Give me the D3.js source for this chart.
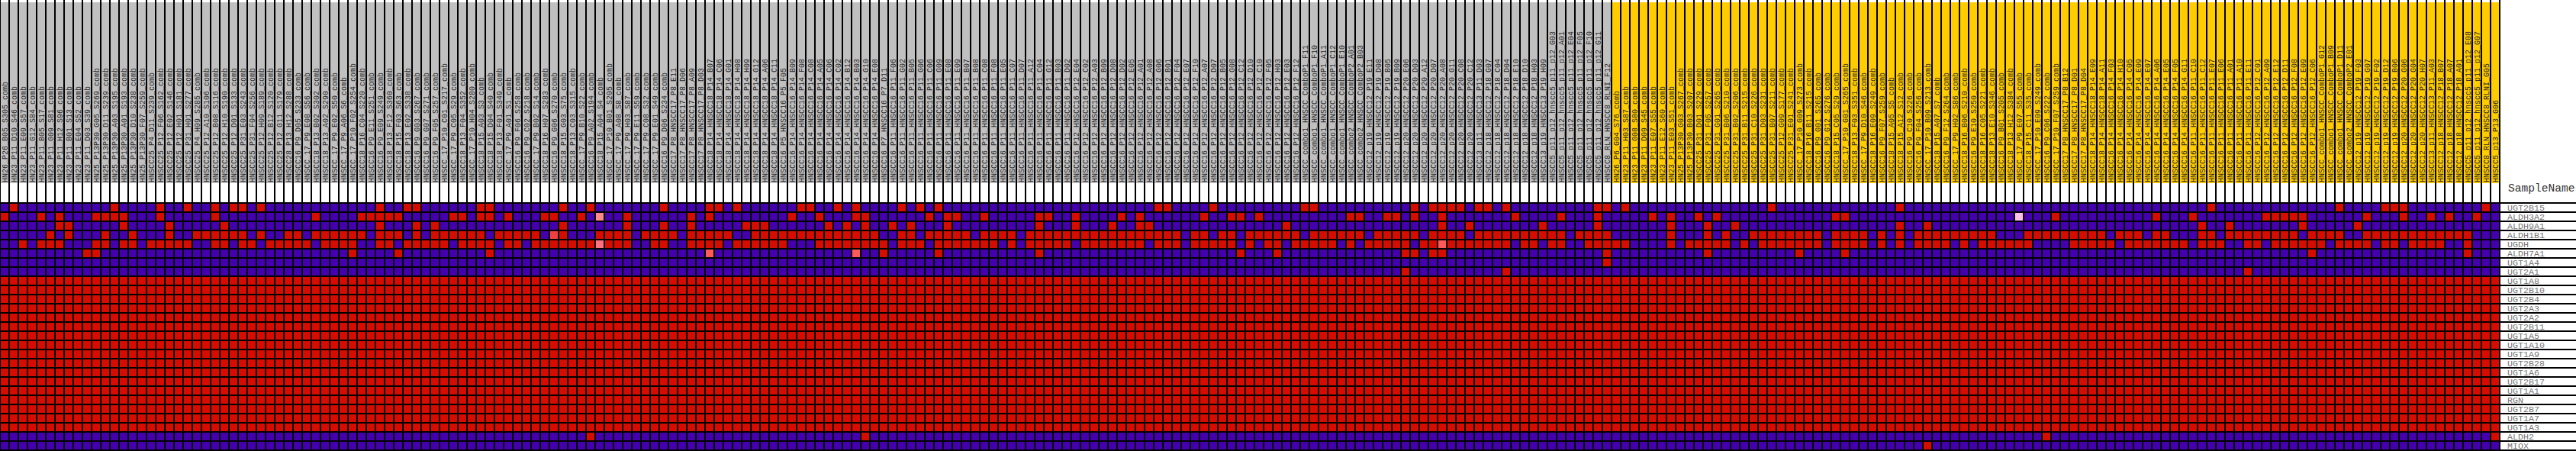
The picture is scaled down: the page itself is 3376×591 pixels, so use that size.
<!DOCTYPE html>
<html><head><meta charset="utf-8">
<script src="https://cdn.jsdelivr.net/npm/d3@7"></script>
<style>html,body{margin:0;padding:0;background:#fff;overflow:hidden}</style>
</head><body><svg id="chart" width="3376" height="591"></svg>
<script>
const sampleNames = [
"HN26_P26_B05_S305_comb","HN23_P11_D10_S46_comb","HN23_P11_E09_S57_comb","HN23_P11_G12_S84_comb","HN23_P11_B05_S17_comb","HN23_P11_G09_S81_comb","HN23_P11_H12_S96_comb","HN23_P11_B01_S13_comb","HN23_P11_E04_S52_comb","HN23_P11_D03_S39_comb",
"HN25_P13P30_G05_S269_comb","HN25_P13P30_D11_S239_comb","HN25_P13P30_A03_S195_comb","HN25_P13P30_A01_S193_comb","HN25_P13P30_D10_S238_comb","HN25_P13P30_F07_S259_comb","HNSCC25_P4_D11_S239_comb","HNSCC25_P12_F06_S162_comb","HNSCC25_P12_E02_S146_comb","HNSCC25_P12_H01_S181_comb",
"HNSCC25_P31_H01_S277_comb","HNSCC25_P4_H09_S285_comb","HNSCC25_P12_A10_S106_comb","HNSCC25_P12_B08_S116_comb","HNSCC25_P12_H10_S190_comb","HNSCC25_P12_D01_S133_comb","HNSCC25_P31_E03_S243_comb","HNSCC25_P31_F04_S256_comb","HNSCC25_P12_H09_S189_comb","HNSCC25_P12_B12_S120_comb",
"HNSCC25_P12_G11_S179_comb","HNSCC28_P13_H12_S288_comb","HNSCC16_P9_D05_S233_comb","HNSCC_17_P9_E08_S56_comb","HNSCC18_P13_B02_S302_comb","HNSCC18_P13_A02_S290_comb","HNSCC_17_P9_E02_S50_comb","HNSCC_17_P9_A06_S6_comb","HNSCC_17_P10_F02_S254_comb",
"HNSCC18_P16_C04_S220_comb","HNSCC16_P9_E11_S251_comb","HNSCC16_P9_E09_S249_comb","HNSCC18_P13_F12_S360_comb","HNSCC18_P15_F03_S63_comb","HNSCC18_P13_E02_S338_comb","HNSCC16_P9_G03_S267_comb","HNSCC16_P9_G07_S271_comb","HNSCC16_P9_F05_S257_comb","HNSCC_17_P10_C01_S217_comb",
"HNSCC_17_P9_C05_S29_comb","HNSCC18_P13_F04_S352_comb","HNSCC_17_P10_H04_S280_comb","HNSCC18_P15_A03_S3_comb","HNSCC18_P15_D04_S40_comb","HNSCC18_P13_F01_S349_comb","HNSCC_17_P9_A01_S1_comb","HNSCC16_P9_F06_S258_comb","HNSCC16_P9_C02_S218_comb","HNSCC_17_P9_B02_S14_comb",
"HNSCC18_P16_H07_S283_comb","HNSCC16_P9_G06_S270_comb","HNSCC18_P15_G03_S75_comb","HNSCC18_P13_C03_S315_comb","HNSCC_17_P9_B10_S22_comb","HNSCC16_P9_A02_S194_comb","HNSCC18_P15_A04_S4_comb","HNSCC_17_P10_B01_S205_comb","HNSCC_17_P9_A08_S8_comb","HNSCC_17_P9_H03_S87_comb",
"HNSCC_17_P9_E11_S59_comb","HNSCC_17_P9_C08_S32_comb","HNSCC_17_P9_E01_S49_comb","HNSCC16_P9_D06_S234_comb","HNSCC17_P8_HNSCC17_P8_E11","HNSCC17_P8_HNSCC17_P8_D06","HNSCC17_P8_HNSCC17_P8_A09","HNSCC17_P8_HNSCC17_P8_D03","HNSCC18_P14_HNSCC18_P14_B07",
"HNSCC18_P14_HNSCC18_P14_C06","HNSCC18_P14_HNSCC18_P14_G01","HNSCC18_P14_HNSCC18_P14_H08","HNSCC18_P14_HNSCC18_P14_H09","HNSCC18_P14_HNSCC18_P14_G12","HNSCC18_P14_HNSCC18_P14_A06","HNSCC18_P14_HNSCC18_P14_C11","HNSCC16_P5_HNSCC16_P5_F05","HNSCC16_P14_HNSCC16_P14_B09","HNSCC16_P14_HNSCC16_P14_F08",
"HNSCC16_P14_HNSCC16_P14_C08","HNSCC16_P14_HNSCC16_P14_A05","HNSCC16_P14_HNSCC16_P14_C06","HNSCC16_P14_HNSCC16_P14_C02","HNSCC16_P14_HNSCC16_P14_B12","HNSCC16_P14_HNSCC16_P14_B03","HNSCC16_P14_HNSCC16_P14_G10","HNSCC16_P14_HNSCC16_P14_E08","HNSCC16_P7_HNSCC16_P7_D11","HNSCC16_P11_HNSCC16_P11_F06",
"HNSCC16_P11_HNSCC16_P11_G02","HNSCC16_P11_HNSCC16_P11_B05","HNSCC16_P11_HNSCC16_P11_G06","HNSCC16_P11_HNSCC16_P11_C06","HNSCC16_P11_HNSCC16_P11_G09","HNSCC16_P11_HNSCC16_P11_E08","HNSCC16_P11_HNSCC16_P11_E09","HNSCC16_P11_HNSCC16_P11_B07","HNSCC16_P11_HNSCC16_P11_B08","HNSCC16_P11_HNSCC16_P11_C08",
"HNSCC16_P11_HNSCC16_P11_F08","HNSCC16_P11_HNSCC16_P11_E05","HNSCC16_P11_HNSCC16_P11_C07","HNSCC16_P11_HNSCC16_P11_D07","HNSCC16_P11_HNSCC16_P11_A12","HNSCC16_P11_HNSCC16_P11_C04","HNSCC16_P11_HNSCC16_P11_G12","HNSCC16_P11_HNSCC16_P11_B03","HNSCC16_P11_HNSCC16_P11_D02",
"HNSCC16_P12_HNSCC16_P12_E04","HNSCC16_P12_HNSCC16_P12_C02","HNSCC16_P12_HNSCC16_P12_A03","HNSCC16_P12_HNSCC16_P12_B09","HNSCC16_P12_HNSCC16_P12_D08","HNSCC16_P12_HNSCC16_P12_D02","HNSCC16_P12_HNSCC16_P12_E05","HNSCC16_P12_HNSCC16_P12_A01","HNSCC16_P12_HNSCC16_P12_A08","HNSCC16_P12_HNSCC16_P12_G06",
"HNSCC16_P12_HNSCC16_P12_B01","HNSCC16_P12_HNSCC16_P12_F04","HNSCC16_P12_HNSCC16_P12_E07","HNSCC16_P12_HNSCC16_P12_F10","HNSCC16_P12_HNSCC16_P12_A07","HNSCC16_P12_HNSCC16_P12_D07","HNSCC16_P12_HNSCC16_P12_B05","HNSCC16_P12_HNSCC16_P12_G08","HNSCC16_P12_HNSCC16_P12_C12","HNSCC16_P12_HNSCC16_P12_D10",
"HNSCC16_P12_HNSCC16_P12_C10","HNSCC16_P12_HNSCC16_P12_F05","HNSCC16_P12_HNSCC16_P12_H03","HNSCC16_P12_HNSCC16_P12_E03","HNSCC16_P12_HNSCC16_P12_F12","HNSCC_combo1_HNSCC_ComboP1_F11","HNSCC_combo1_HNSCC_ComboP1_F10","HNSCC_combo1_HNSCC_ComboP1_A11","HNSCC_combo1_HNSCC_ComboP1_C12","HNSCC_combo1_HNSCC_ComboP1_E10",
"HNSCC_combo2_HNSCC_ComboP2_A01","HNSCC_combo2_HNSCC_ComboP2_B03","HNSCC12_p19_HNSCC12_P19_E11","HNSCC12_p19_HNSCC12_P19_D08","HNSCC12_p19_HNSCC12_P19_B05","HNSCC12_p19_HNSCC12_P19_B09","HNSCC12_p20_HNSCC12_P20_E06","HNSCC12_p20_HNSCC12_P20_D03","HNSCC12_p20_HNSCC12_P20_A12",
"HNSCC12_p20_HNSCC12_P20_D07","HNSCC12_p20_HNSCC12_P20_A08","HNSCC12_p20_HNSCC12_P20_G11","HNSCC12_p20_HNSCC12_P20_C08","HNSCC12_p20_HNSCC12_P20_C12","HNSCC13_p11_HNSCC13_P11_D03","HNSCC12_p18_HNSCC12_P18_G07","HNSCC12_p18_HNSCC12_P18_C04","HNSCC12_p18_HNSCC12_P18_D04","HNSCC12_p18_HNSCC12_P18_E10",
"HNSCC12_p18_HNSCC12_P18_D10","HNSCC12_p18_HNSCC12_P18_H03","HNSCC13_p19_HNSCC13_P19_H09","HNSCC5_p11_p12_hnscc5_p11_p12_G03","HNSCC5_p11_p12_hnscc5_p11_p12_A01","HNSCC5_p11_p12_hnscc5_p11_p12_E04","HNSCC5_p11_p12_hnscc5_p11_p12_F05","HNSCC5_p11_p12_hnscc5_p11_p12_F10","HNSCC5_p11_p12_hnscc5_p11_p12_G11","HNSCC8_RLN_HNSCC8_RLNI_F12",
"HN26_P6_G04_S76_comb","HN23_P11_H03_S87_comb","HN23_P11_G08_S80_comb","HN23_P11_D09_S45_comb","HN23_P11_E07_S55_comb","HN23_P11_E12_S60_comb","HN23_P11_E03_S51_comb","HN25_P13P30_G03_S267_comb","HN25_P13P30_B03_S207_comb","HNSCC25_P31_D01_S229_comb",
"HNSCC25_P31_F05_S257_comb","HNSCC25_P31_G01_S265_comb","HNSCC25_P31_B06_S210_comb","HNSCC25_P31_B02_S206_comb","HNSCC25_P31_B11_S215_comb","HNSCC25_P31_C10_S226_comb","HNSCC25_P31_D03_S231_comb","HNSCC25_P31_B07_S211_comb","HNSCC25_P12_G09_S177_comb",
"HNSCC25_P31_E01_S241_comb","HNSCC_17_P10_G09_S273_comb","HNSCC18_P16_B11_S215_comb","HNSCC16_P9_G01_S265_comb","HNSCC16_P9_G12_S276_comb","HNSCC18_P15_C05_S29_comb","HNSCC_17_P10_G01_S265_comb","HNSCC18_P13_F03_S351_comb","HNSCC_17_P9_D10_S46_comb","HNSCC18_P16_E09_S249_comb",
"HNSCC16_P9_F07_S259_comb","HNSCC18_P15_A05_S5_comb","HNSCC18_P15_A12_S12_comb","HNSCC16_P9_C10_S226_comb","HNSCC16_P9_F04_S256_comb","HNSCC_17_P10_B09_S213_comb","HNSCC18_P15_A07_S7_comb","HNSCC16_P9_F12_S264_comb","HNSCC_17_P9_H02_S86_comb","HNSCC18_P16_B06_S210_comb",
"HNSCC16_P9_E10_S250_comb","HNSCC18_P16_C05_S221_comb","HNSCC18_P13_E10_S346_comb","HNSCC16_P9_B01_S205_comb","HNSCC18_P13_H12_S384_comb","HNSCC_17_P9_E07_S55_comb","HNSCC18_P15_C11_S35_comb","HNSCC_17_P10_E09_S249_comb","HNSCC16_P9_C06_S222_comb","HNSCC_17_P10_F07_S259_comb",
"HNSCC17_P8_HNSCC17_P8_B12","HNSCC17_P8_HNSCC17_P8_D01","HNSCC17_P8_HNSCC17_P8_D04","HNSCC18_P14_HNSCC18_P14_E09","HNSCC18_P14_HNSCC18_P14_A11","HNSCC16_P14_HNSCC16_P14_F03","HNSCC16_P14_HNSCC16_P14_H10","HNSCC16_P14_HNSCC16_P14_C05","HNSCC16_P14_HNSCC16_P14_E09",
"HNSCC16_P14_HNSCC16_P14_E07","HNSCC16_P14_HNSCC16_P14_A06","HNSCC16_P14_HNSCC16_P14_E05","HNSCC16_P14_HNSCC16_P14_F05","HNSCC16_P14_HNSCC16_P14_G11","HNSCC16_P11_HNSCC16_P11_C10","HNSCC16_P11_HNSCC16_P11_C12","HNSCC16_P11_HNSCC16_P11_E07","HNSCC16_P11_HNSCC16_P11_E06","HNSCC16_P11_HNSCC16_P11_A01",
"HNSCC16_P11_HNSCC16_P11_A10","HNSCC16_P11_HNSCC16_P11_E11","HNSCC16_P12_HNSCC16_P12_C01","HNSCC16_P12_HNSCC16_P12_A09","HNSCC16_P12_HNSCC16_P12_E12","HNSCC16_P12_HNSCC16_P12_D11","HNSCC16_P12_HNSCC16_P12_F08","HNSCC16_P12_HNSCC16_P12_E09","HNSCC16_P12_HNSCC16_P12_C06","HNSCC_combo1_HNSCC_ComboP1_G12",
"HNSCC_combo1_HNSCC_ComboP1_B09","HNSCC_combo1_HNSCC_ComboP1_D11","HNSCC_combo2_HNSCC_ComboP2_E01","HNSCC12_p19_HNSCC12_P19_F03","HNSCC12_p19_HNSCC12_P19_G07","HNSCC12_p19_HNSCC12_P19_F02","HNSCC12_p19_HNSCC12_P19_D12","HNSCC12_p19_HNSCC12_P19_B06","HNSCC12_p20_HNSCC12_P20_G06","HNSCC12_p20_HNSCC12_P20_G04",
"HNSCC12_p20_HNSCC12_P20_H07","HNSCC13_p11_HNSCC13_P11_A03","HNSCC12_p18_HNSCC12_P18_B07","HNSCC12_p18_HNSCC12_P18_A07","HNSCC12_p18_HNSCC12_P18_A01","HNSCC5_p11_p12_hnscc5_p11_p12_E08","HNSCC5_p11_p12_hnscc5_p11_p12_G07","HNSCC8_RLN_HNSCC8_RLNI_G05","HNSCC5_p13_P13_G06"
];

// number of samples in each phenotype class, in column order
const classNames = ["class0", "class1"];
const classSizes = [176, 97];

const geneNames = ["UGT2B15","ALDH3A2","ALDH9A1","ALDH1B1","UGDH","ALDH7A1","UGT1A4","UGT2A1","UGT1A8","UGT2B10","UGT2B4","UGT2A3","UGT2A2","UGT2B11","UGT1A5","UGT1A10","UGT1A9","UGT2B28","UGT1A6","UGT2B17","UGT1A1","RGN","UGT2B7","UGT1A7","UGT1A3","ALDH2","MIOX"];

// colour level per cell (base-12 digit: 0 = lowest ... b = highest), 273 samples per gene
const cellLevels = [
"0b00000000 00b0000b00 b00b0bb0b0 000000000|00b00bb000 000bb00000 00b00b0000 000b0000b|b0b000000b b00b0b0000 b0b0b00000 000000000|000000000b b0000b0000 00000bb000 0000000b0|bbbb0bb0b0 00000000bb 0b00000000 0000000b0|0000000000 00b0000000 0000000000 000000000|0000000b00 0000000000 0b0000bbb0 0000000b0",
"b000b0b000 bbbb000b00 000b000000 0000b0000|bbbbb00000 bb0bb0b000 bb00b0700b 000000b0b|00000000b0 0b000bb000 000b0bb00b 00000bb00|b0000b0b00 0000b00bb0 b000000000 bb00bb0b0|0b0000000b 0000b000b0 0000b0b00b 0b0000000|00000bb000 0000000000 000006000b 000000000|0b000b0000 000bbbbb00 0000b000b0 0b0b00b00",
"000000bb00 000b0000b0 0000b00000 000000000|00b000b0b0 0000000000 00b000000b 000b00b00|000bbb0000 00b0b0b00b 0b000b0000 00000b000|b000b00bb0 0000000000 000b000000 000000000|0b00b00000 00b00000b0 000000b000 b00b00000|0000000000 00b00b0000 0000000000 000000000|000000b00b 0000000b00 000b000000 000000000",
"00000b0b00 0b00b000b0 0bbbbbb0b0 0bb0bbbbb|b0bbb0b0bb bbbb0bbbbb 0ab000bbbb 0bbbb0bbb|bb00bbbbbb bbbbbbbb00 bb0bbbbb0b bbb0bbbbb|bbbbbbbbbb bb0bb0bb0b bbbbb0bbbb bb0bbbbb0|bbbb0bbbbb bbbbb0bbbb 000000b000 b0b00bbbb|bbbb0bbbb0 b0b0bbbbbb bbb000bbbb bbbbb0bbb|0bb000bb0b bbbbbbb0bb bb00bbbbbb bbbbbb000",
"00b0bbb000 bb0bb0bbbb b00bb0bb0b bbbb0bbbb|00bb0bbbbb 0bbbb0bb0b bbbbbb8bbb 00bb00bbb|b0bbbbbb00 0bbbbbbbb0 bbb0bbbbbb b0b0bbbbb|0bbbbbbb0b bb0bbbbb0b 0bb0bbbbb0 b0bbbbb0b|b9bbbbbbb0 bb0bb00bbb bb0000b0bb bbb0b0bbb|bbbb0bbbb0 b0b0bbbb0b 0bbbbbb000 0bbbbb0bb|bbbbb0bbb0 0bb0bbbbbb 0bbbb0bb0b bbb00b000",
"000000000b b000000000 0000000000 00000000b|0000b00000 0000b00000 0000000000 000000009|0000000000 00000900b0 0000b00000 00000b000|0000000000 00000000b0 00b0000000 000000bb0|bb00000000 000000000b 0000000000 b00000000|0b0000b000 0000000000 0000000000 000000000|0000000000 00000000b0 0000000000 00000b000",
"0000000000 0000000000 0000000000 000000000|0000000000 0000000000 0000000000 000000000|0000000000 0000000000 0000000000 000000000|0000000000 0000000000 0000000000 000000000|0000000000 000000000b 0000000000 000000000|0000000000 0000000000 0000000000 000000000|0000000000 0000000000 0000000000 000000000",
"0000000000 0000000000 0000000000 000000000|0000000000 0000000000 0000000000 000000000|0000000000 0000000000 0000000000 000000000|0000000000 0000000000 0000000000 000000b00|00000000b0 0000000000 0000000000 000000000|0000000000 0000000000 0000000000 000000000|0000000000 0b00000000 0000000000 000000000",
"bbbbbbbbbb bbbbbbbbbb bbbbbbbbbb bbbbbbbbb|bbbbbbbbbb bbbbbbbbbb bbbbbbbbbb bbbbbbbbb|bbbbbbbbbb bbbbbbbbbb bbbbbbbbbb bbbbbbbbb|bbbbbbbbbb bbbbbbbbbb bbbbbbbbbb bbbbbbbbb|bbbbbbbbbb bbbbbbbbbb bbbbbbbbbb bbbbbbbbb|bbbbbbbbbb bbbbbbbbbb bbbbbbbbbb bbbbbbbbb|bbbbbbbbbb bbbbbbbbbb bbbbbbbbbb bbbbbbbbb",
"bbbbbbbbbb bbbbbbbbbb bbbbbbbbbb bbbbbbbbb|bbbbbbbbbb bbbbbbbbbb bbbbbbbbbb bbbbbbbbb|bbbbbbbbbb bbbbbbbbbb bbbbbbbbbb bbbbbbbbb|bbbbbbbbbb bbbbbbbbbb bbbbbbbbbb bbbbbbbbb|bbbbbbbbbb bbbbbbbbbb bbbbbbbbbb bbbbbbbbb|bbbbbbbbbb bbbbbbbbbb bbbbbbbbbb bbbbbbbbb|bbbbbbbbbb bbbbbbbbbb bbbbbbbbbb bbbbbbbbb",
"bbbbbbbbbb bbbbbbbbbb bbbbbbbbbb bbbbbbbbb|bbbbbbbbbb bbbbbbbbbb bbbbbbbbbb bbbbbbbbb|bbbbbbbbbb bbbbbbbbbb bbbbbbbbbb bbbbbbbbb|bbbbbbbbbb bbbbbbbbbb bbbbbbbbbb bbbbbbbbb|bbbbbbbbbb bbbbbbbbbb bbbbbbbbbb bbbbbbbbb|bbbbbbbbbb bbbbbbbbbb bbbbbbbbbb bbbbbbbbb|bbbbbbbbbb bbbbbbbbbb bbbbbbbbbb bbbbbbbbb",
"bbbbbbbbbb bbbbbbbbbb bbbbbbbbbb bbbbbbbbb|bbbbbbbbbb bbbbbbbbbb bbbbbbbbbb bbbbbbbbb|bbbbbbbbbb bbbbbbbbbb bbbbbbbbbb bbbbbbbbb|bbbbbbbbbb bbbbbbbbbb bbbbbbbbbb bbbbbbbbb|bbbbbbbbbb bbbbbbbbbb bbbbbbbbbb bbbbbbbbb|bbbbbbbbbb bbbbbbbbbb bbbbbbbbbb bbbbbbbbb|bbbbbbbbbb bbbbbbbbbb bbbbbbbbbb bbbbbbbbb",
"bbbbbbbbbb bbbbbbbbbb bbbbbbbbbb bbbbbbbbb|bbbbbbbbbb bbbbbbbbbb bbbbbbbbbb bbbbbbbbb|bbbbbbbbbb bbbbbbbbbb bbbbbbbbbb bbbbbbbbb|bbbbbbbbbb bbbbbbbbbb bbbbbbbbbb bbbbbbbbb|bbbbbbbbbb bbbbbbbbbb bbbbbbbbbb bbbbbbbbb|bbbbbbbbbb bbbbbbbbbb bbbbbbbbbb bbbbbbbbb|bbbbbbbbbb bbbbbbbbbb bbbbbbbbbb bbbbbbbbb",
"bbbbbbbbbb bbbbbbbbbb bbbbbbbbbb bbbbbbbbb|bbbbbbbbbb bbbbbbbbbb bbbbbbbbbb bbbbbbbbb|bbbbbbbbbb bbbbbbbbbb bbbbbbbbbb bbbbbbbbb|bbbbbbbbbb bbbbbbbbbb bbbbbbbbbb bbbbbbbbb|bbbbbbbbbb bbbbbbbbbb bbbbbbbbbb bbbbbbbbb|bbbbbbbbbb bbbbbbbbbb bbbbbbbbbb bbbbbbbbb|bbbbbbbbbb bbbbbbbbbb bbbbbbbbbb bbbbbbbbb",
"bbbbbbbbbb bbbbbbbbbb bbbbbbbbbb bbbbbbbbb|bbbbbbbbbb bbbbbbbbbb bbbbbbbbbb bbbbbbbbb|bbbbbbbbbb bbbbbbbbbb bbbbbbbbbb bbbbbbbbb|bbbbbbbbbb bbbbbbbbbb bbbbbbbbbb bbbbbbbbb|bbbbbbbbbb bbbbbbbbbb bbbbbbbbbb bbbbbbbbb|bbbbbbbbbb bbbbbbbbbb bbbbbbbbbb bbbbbbbbb|bbbbbbbbbb bbbbbbbbbb bbbbbbbbbb bbbbbbbbb",
"bbbbbbbbbb bbbbbbbbbb bbbbbbbbbb bbbbbbbbb|bbbbbbbbbb bbbbbbbbbb bbbbbbbbbb bbbbbbbbb|bbbbbbbbbb bbbbbbbbbb bbbbbbbbbb bbbbbbbbb|bbbbbbbbbb bbbbbbbbbb bbbbbbbbbb bbbbbbbbb|bbbbbbbbbb bbbbbbbbbb bbbbbbbbbb bbbbbbbbb|bbbbbbbbbb bbbbbbbbbb bbbbbbbbbb bbbbbbbbb|bbbbbbbbbb bbbbbbbbbb bbbbbbbbbb bbbbbbbbb",
"bbbbbbbbbb bbbbbbbbbb bbbbbbbbbb bbbbbbbbb|bbbbbbbbbb bbbbbbbbbb bbbbbbbbbb bbbbbbbbb|bbbbbbbbbb bbbbbbbbbb bbbbbbbbbb bbbbbbbbb|bbbbbbbbbb bbbbbbbbbb bbbbbbbbbb bbbbbbbbb|bbbbbbbbbb bbbbbbbbbb bbbbbbbbbb bbbbbbbbb|bbbbbbbbbb bbbbbbbbbb bbbbbbbbbb bbbbbbbbb|bbbbbbbbbb bbbbbbbbbb bbbbbbbbbb bbbbbbbbb",
"bbbbbbbbbb bbbbbbbbbb bbbbbbbbbb bbbbbbbbb|bbbbbbbbbb bbbbbbbbbb bbbbbbbbbb bbbbbbbbb|bbbbbbbbbb bbbbbbbbbb bbbbbbbbbb bbbbbbbbb|bbbbbbbbbb bbbbbbbbbb bbbbbbbbbb bbbbbbbbb|bbbbbbbbbb bbbbbbbbbb bbbbbbbbbb bbbbbbbbb|bbbbbbbbbb bbbbbbbbbb bbbbbbbbbb bbbbbbbbb|bbbbbbbbbb bbbbbbbbbb bbbbbbbbbb bbbbbbbbb",
"bbbbbbbbbb bbbbbbbbbb bbbbbbbbbb bbbbbbbbb|bbbbbbbbbb bbbbbbbbbb bbbbbbbbbb bbbbbbbbb|bbbbbbbbbb bbbbbbbbbb bbbbbbbbbb bbbbbbbbb|bbbbbbbbbb bbbbbbbbbb bbbbbbbbbb bbbbbbbbb|bbbbbbbbbb bbbbbbbbbb bbbbbbbbbb bbbbbbbbb|bbbbbbbbbb bbbbbbbbbb bbbbbbbbbb bbbbbbbbb|bbbbbbbbbb bbbbbbbbbb bbbbbbbbbb bbbbbbbbb",
"bbbbbbbbbb bbbbbbbbbb bbbbbbbbbb bbbbbbbbb|bbbbbbbbbb bbbbbbbbbb bbbbbbbbbb bbbbbbbbb|bbbbbbbbbb bbbbbbbbbb bbbbbbbbbb bbbbbbbbb|bbbbbbbbbb bbbbbbbbbb bbbbbbbbbb bbbbbbbbb|bbbbbbbbbb bbbbbbbbbb bbbbbbbbbb bbbbbbbbb|bbbbbbbbbb bbbbbbbbbb bbbbbbbbbb bbbbbbbbb|bbbbbbbbbb bbbbbbbbbb bbbbbbbbbb bbbbbbbbb",
"bbbbbbbbbb bbbbbbbbbb bbbbbbbbbb bbbbbbbbb|bbbbbbbbbb bbbbbbbbbb bbbbbbbbbb bbbbbbbbb|bbbbbbbbbb bbbbbbbbbb bbbbbbbbbb bbbbbbbbb|bbbbbbbbbb bbbbbbbbbb bbbbbbbbbb bbbbbbbbb|bbbbbbbbbb bbbbbbbbbb bbbbbbbbbb bbbbbbbbb|bbbbbbbbbb bbbbbbbbbb bbbbbbbbbb bbbbbbbbb|bbbbbbbbbb bbbbbbbbbb bbbbbbbbbb bbbbbbbbb",
"bbbbbbbbbb bbbbbbbbbb bbbbbbbbbb bbbbbbbbb|bbbbbbbbbb bbbbbbbbbb bbbbbbbbbb bbbbbbbbb|bbbbbbbbbb bbbbbbbbbb bbbbbbbbbb bbbbbbbbb|bbbbbbbbbb bbbbbbbbbb bbbbbbbbbb bbbbbbbbb|bbbbbbbbbb bbbbbbbbbb bbbbbbbbbb bbbbbbbbb|bbbbbbbbbb bbbbbbbbbb bbbbbbbbbb bbbbbbbbb|bbbbbbbbbb bbbbbbbbbb bbbbbbbbbb bbbbbbbbb",
"bbbbbbbbbb bbbbbbbbbb bbbbbbbbbb bbbbbbbbb|bbbbbbbbbb bbbbbbbbbb bbbbbbbbbb bbbbbbbbb|bbbbbbbbbb bbbbbbbbbb bbbbbbbbbb bbbbbbbbb|bbbbbbbbbb bbbbbbbbbb bbbbbbbbbb bbbbbbbbb|bbbbbbbbbb bbbbbbbbbb bbbbbbbbbb bbbbbbbbb|bbbbbbbbbb bbbbbbbbbb bbbbbbbbbb bbbbbbbbb|bbbbbbbbbb bbbbbbbbbb bbbbbbbbbb bbbbbbbbb",
"bbbbbbbbbb bbbbbbbbbb bbbbbbbbbb bbbbbbbbb|bbbbbbbbbb bbbbbbbbbb bbbbbbbbbb bbbbbbbbb|bbbbbbbbbb bbbbbbbbbb bbbbbbbbbb bbbbbbbbb|bbbbbbbbbb bbbbbbbbbb bbbbbbbbbb bbbbbbbbb|bbbbbbbbbb bbbbbbbbbb bbbbbbbbbb bbbbbbbbb|bbbbbbbbbb bbbbbbbbbb bbbbbbbbbb bbbbbbbbb|bbbbbbbbbb bbbbbbbbbb bbbbbbbbbb bbbbbbbbb",
"bbbbbbbbbb bbbbbbbbbb bbbbbbbbbb bbbbbbbbb|bbbbbbbbbb bbbbbbbbbb bbbbbbbbbb bbbbbbbbb|bbbbbbbbbb bbbbbbbbbb bbbbbbbbbb bbbbbbbbb|bbbbbbbbbb bbbbbbbbbb bbbbbbbbbb bbbbbbbbb|bbbbbbbbbb bbbbbbbbbb bbbbbbbbbb bbbbbbbbb|bbbbbbbbbb bbbbbbbbbb bbbbbbbbbb bbbbbbbbb|bbbbbbbbbb bbbbbbbbbb bbbbbbbbbb bbbbbbbbb",
"0000000000 0000000000 0000000000 000000000|0000000000 0000000000 00000b0000 000000000|0000000000 000000b000 0000000000 000000000|0000000000 0000000000 0000000000 000000000|0000000000 0000000000 0000000000 000000000|0000000000 0000000000 00000000b0 000000000|0000000000 0000000000 0000000000 00000000b",
"0000000000 0000000000 0000000000 000000000|0000000000 0000000000 0000000000 000000000|0000000000 0000000000 0000000000 000000000|0000000000 0000000000 0000000000 000000000|0000000000 0000000000 0000000000 000000000|0000000000 00000b0000 0000000000 000000000|0000000000 0000000000 0000000000 000000000"
];

// relative colour palette, lowest to highest
const levelColors = ["#4500AD","#2700D1","#6B58EF","#8888FF","#C7C1FF","#D5D5FF","#FFC0E5","#FF8989","#FF7080","#FF5A5A","#EF4040","#D60C00"];
const classColors = ["#C0C0C0", "#FFCC00"];

const W = 3376, H = 591;
const cellSize = 12;
const nS = sampleNames.length;
const heatLeft = 0, heatRight = heatLeft + nS * cellSize;
const heatTop = 266, heatBottom = heatTop + geneNames.length * cellSize;

const svg = d3.select("#chart");
svg.append("rect").attr("width", W).attr("height", H).attr("fill", "#fff");

const x = d3.scaleBand().domain(d3.range(nS)).range([heatLeft, heatRight]);
const y = d3.scaleBand().domain(geneNames).range([heatTop, heatBottom]);
const color = d3.scaleOrdinal().domain(d3.range(levelColors.length)).range(levelColors);

// class of each sample
const sampleClass = [];
classSizes.forEach((n, ci) => { for (let k = 0; k < n; k++) sampleClass.push(ci); });
const classColor = d3.scaleOrdinal().domain(d3.range(classNames.length)).range(classColors);

// header bars
svg.append("g").selectAll("rect").data(d3.range(nS)).join("rect")
  .attr("x", i => x(i)).attr("y", 3)
  .attr("width", x.bandwidth()).attr("height", 237)
  .attr("fill", i => classColor(sampleClass[i]));

// header labels
svg.append("g").selectAll("text").data(d3.range(nS)).join("text")
  .attr("transform", i => `translate(${x(i) + 10},239) rotate(-90)`)
  .attr("font-family", "'Liberation Mono', 'DejaVu Sans Mono', monospace")
  .attr("font-size", 10)
  .attr("fill", "#2a2a2a")
  .text(i => sampleNames[i]);

// cells
const cells = [];
cellLevels.forEach((s, r) => {
  const clean = s.replace(/[ |]/g, "");
  for (let c = 0; c < nS; c++) cells.push({ gene: geneNames[r], col: c, level: parseInt(clean[c], 12) });
});
svg.append("g").selectAll("rect").data(cells).join("rect")
  .attr("x", d => x(d.col)).attr("y", d => y(d.gene))
  .attr("width", x.bandwidth()).attr("height", y.bandwidth())
  .attr("fill", d => color(d.level));

// grid lines
const grid = svg.append("g").attr("stroke", "#000").attr("stroke-width", 2);
grid.selectAll("line.v").data(d3.range(nS + 1)).join("line").attr("class", "v")
  .attr("x1", i => heatLeft + i * x.step()).attr("x2", i => heatLeft + i * x.step())
  .attr("y1", 0).attr("y2", H);
grid.selectAll("line.h").data(d3.range(geneNames.length + 1)).join("line").attr("class", "h")
  .attr("x1", heatLeft).attr("x2", W)
  .attr("y1", i => heatTop + i * y.step()).attr("y2", i => heatTop + i * y.step());

// right-side labels
svg.append("text").attr("x", heatRight + 11).attr("y", 251)
  .attr("font-family", "'Liberation Mono', monospace").attr("font-size", 14.6)
  .attr("fill", "#333").text("SampleName");
svg.append("g").selectAll("text").data(geneNames).join("text")
  .attr("x", heatRight + 10).attr("y", g => y(g) + y.bandwidth() / 2)
  .attr("dy", "0.36em")
  .attr("font-family", "'Liberation Mono', monospace").attr("font-size", 11.7)
  .attr("fill", "#777").text(g => g);
</script>
</body></html>
